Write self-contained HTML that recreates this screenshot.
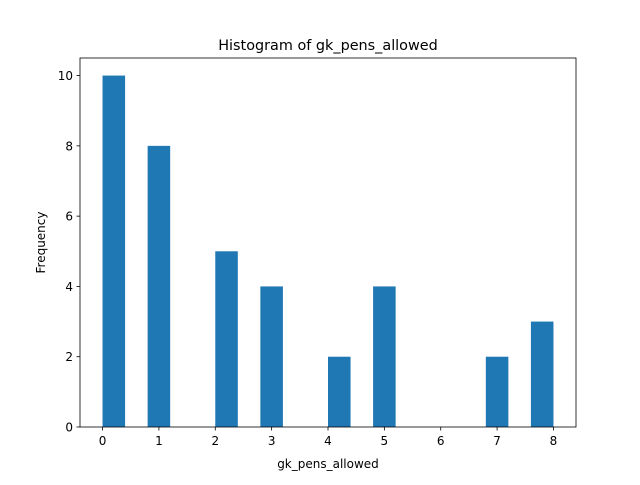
<!DOCTYPE html>
<html><head><meta charset="utf-8"><style>
body{margin:0;background:#fff}
svg text{font-family:"DejaVu Sans","Liberation Sans",sans-serif;fill:#000}
</style></head><body>
<svg id="chart" width="640" height="480" viewBox="0 0 640 480">
<rect width="640" height="480" fill="#fff"/>
<text x="328" y="50" font-size="14.4" text-anchor="middle">Histogram of gk_pens_allowed</text>
<g id="bars"></g>
<g id="axes"></g>
<text x="328" y="468" font-size="12" text-anchor="middle">gk_pens_allowed</text>
<text transform="translate(45,242.5) rotate(-90)" font-size="12" text-anchor="middle">Frequency</text>
</svg>
<script>
const binStarts=[0,0.8,2.0,2.8,4.0,4.8,6.8,7.6];
const counts=[10,8,5,4,2,4,2,3];
const binWidth=0.4;
const xTicks=[0,1,2,3,4,5,6,7,8];
const yTicks=[0,2,4,6,8,10];
const L=80,R=576,T=58,B=427;
const xmin=-0.4,xmax=8.4,ymin=0,ymax=10.5;
const X=v=>L+(v-xmin)/(xmax-xmin)*(R-L);
const Y=v=>B-(v-ymin)/(ymax-ymin)*(B-T);
const NS="http://www.w3.org/2000/svg";
const bars=document.getElementById('bars');
binStarts.forEach((s,i)=>{
 const r=document.createElementNS(NS,'rect');
 r.setAttribute('x',X(s));r.setAttribute('width',X(s+binWidth)-X(s));
 r.setAttribute('y',Y(counts[i]));r.setAttribute('height',Y(0)-Y(counts[i]));
 r.setAttribute('fill','#1f77b4');
 
 
 bars.appendChild(r);
});
const ax=document.getElementById('axes');
let h='<rect x="80" y="58" width="496" height="369" fill="none" stroke="#000" stroke-width="0.8"/>';
xTicks.forEach(t=>{const x=X(t);h+=`<line x1="${x}" x2="${x}" y1="427" y2="430.5" stroke="#000" stroke-width="0.8"/><text x="${x}" y="445" font-size="12" text-anchor="middle">${t}</text>`;});
yTicks.forEach(t=>{const y=Y(t);h+=`<line x1="76.5" x2="80" y1="${y}" y2="${y}" stroke="#000" stroke-width="0.8"/><text x="73" y="${y+4.5}" font-size="12" text-anchor="end">${t}</text>`;});
ax.innerHTML=h;


</script>
</body></html>
